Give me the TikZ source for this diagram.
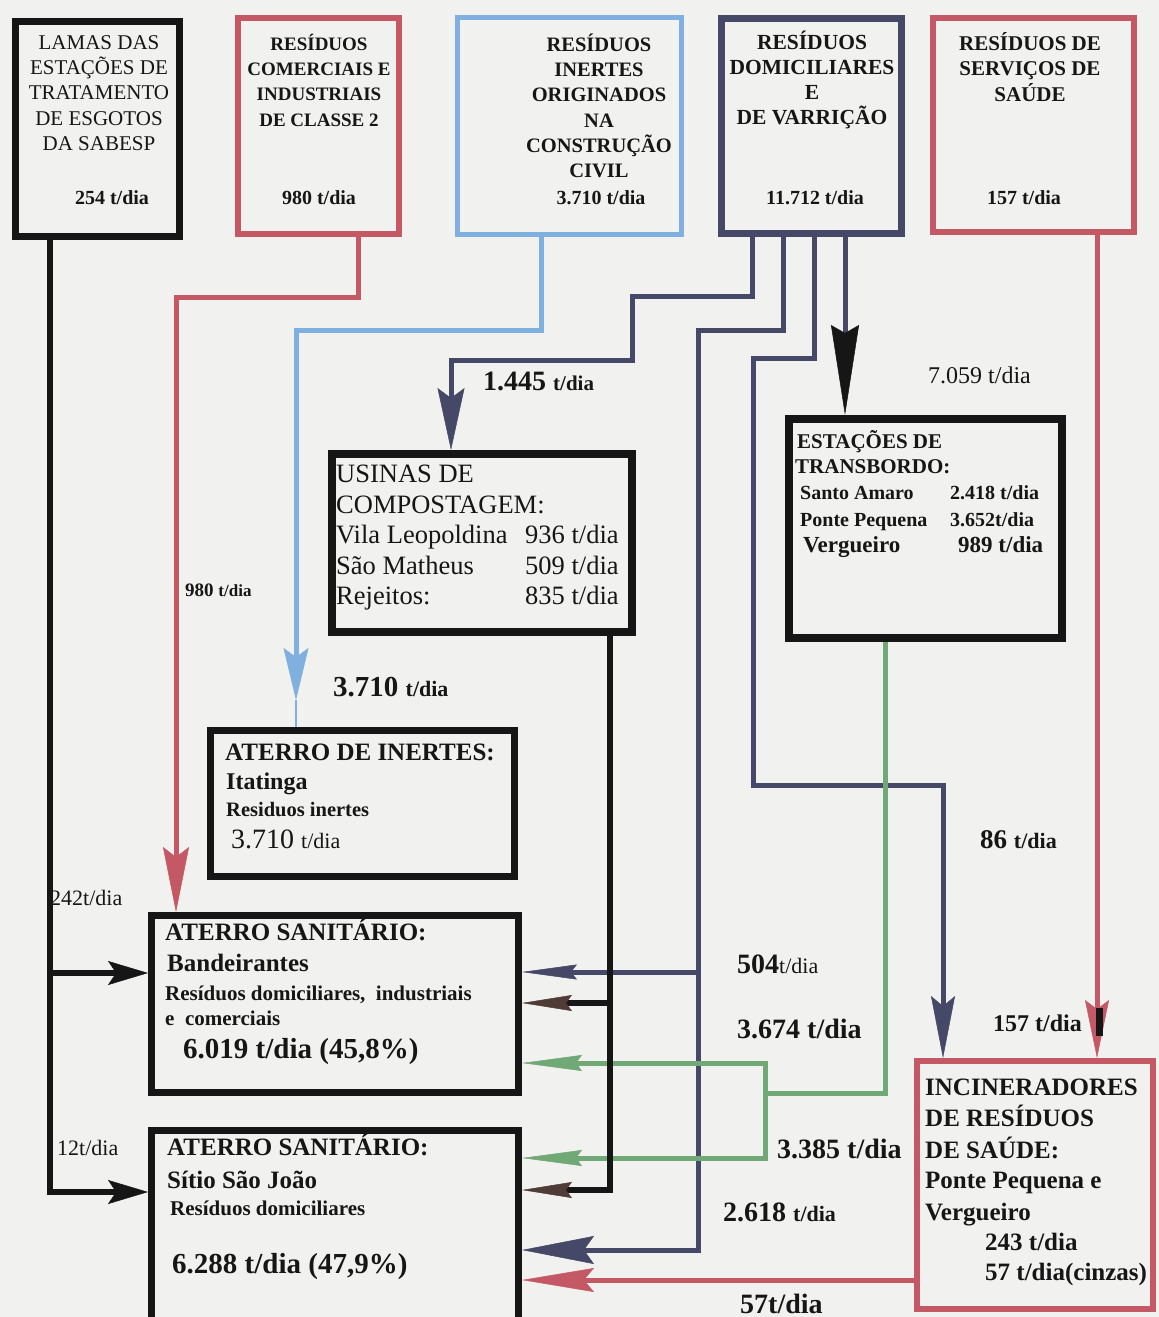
\documentclass[tikz,border=0pt]{standalone}
\usepackage{fontspec}
\setmainfont{Liberation Serif}
\usetikzlibrary{arrows.meta}
\definecolor{cPaper}{RGB}{241,241,239}
\definecolor{cInk}{RGB}{22,22,22}
\definecolor{cRed}{RGB}{196,88,100}
\definecolor{cBlue}{RGB}{128,176,224}
\definecolor{cNavy}{RGB}{70,72,104}
\definecolor{cGreen}{RGB}{112,168,118}
\definecolor{cBrown}{RGB}{80,60,54}
\newcommand{\fsz}[1]{\fontsize{#1}{#1}\selectfont}
\newcommand{\fszb}[2]{\fontsize{#1}{#2}\selectfont}

\begin{document}
\begin{tikzpicture}[x=1pt,y=-1pt,
  frm/.style={draw, rectangle, inner sep=0pt},
  frmBlack/.style={frm, draw=cInk, line width=7pt},
  frmRed/.style={frm, draw=cRed, line width=6pt},
  frmBlue/.style={frm, draw=cBlue, line width=5pt},
  frmNavy/.style={frm, draw=cNavy, line width=7pt},
  head/.style={inner sep=0pt, text=cInk, align=center},
  lbl/.style={inner sep=0pt, text=cInk, anchor=mid west, yshift=-6pt},
  flow/.style={line width=5pt, line join=miter},
  flowBlack/.style={flow, draw=cInk, line width=6pt},
  flowRed/.style={flow, draw=cRed},
  flowBlue/.style={flow, draw=cBlue},
  flowNavy/.style={flow, draw=cNavy},
  flowGreen/.style={flow, draw=cGreen},
]
\fill[cPaper] (0,0) rectangle (1159,1317);
\useasboundingbox (0,0) rectangle (1159,1317);
\clip (0,0) rectangle (1159,1317);

% ---------- source boxes ----------
\node[frmBlack, minimum width=164pt, minimum height=215pt] (lamas) at (97.5,129) {};
\node[frmRed,   minimum width=161pt, minimum height=216pt] (comer) at (318.5,126) {};
\node[frmBlue,  minimum width=224pt, minimum height=217pt] (inert) at (569.5,126) {};
\node[frmNavy,  minimum width=180pt, minimum height=215pt] (domic) at (811.5,126) {};
\node[frmRed,   minimum width=201pt, minimum height=214pt] (saude) at (1033.5,125) {};

\node[head, font=\fszb{21}{25.3}] (lamasT) at (99,93) {LAMAS DAS\\ESTAÇÕES DE\\TRATAMENTO\\DE ESGOTOS\\DA SABESP};
\node[head, font=\fsz{20}\bfseries] (lamasN) at (112,198) {254 t/dia};
\node[head, font=\fszb{19}{25.3}\bfseries] (comerT) at (319,80) {RESÍDUOS\\COMERCIAIS E\\INDUSTRIAIS\\DE CLASSE 2};
\node[head, font=\fsz{20}\bfseries] (comerN) at (319,198) {980 t/dia};
\node[head, font=\fszb{20.5}{25.3}\bfseries] (inertT) at (599,106) {RESÍDUOS\\INERTES\\ORIGINADOS\\NA\\CONSTRUÇÃO\\CIVIL};
\node[head, font=\fsz{20}\bfseries] (inertN) at (601,198) {3.710 t/dia};
\node[head, font=\fszb{21.5}{25.3}\bfseries] (domicT) at (812,80) {RESÍDUOS\\DOMICILIARES\\E\\DE VARRIÇÃO};
\node[head, font=\fsz{20}\bfseries] (domicN) at (815,198) {11.712 t/dia};
\node[head, font=\fszb{21}{25.3}\bfseries] (saudeT) at (1030,67) {RESÍDUOS DE\\SERVIÇOS DE\\SAÚDE};
\node[head, font=\fsz{20}\bfseries] (saudeN) at (1024,198) {157 t/dia};

% ---------- treatment and disposal boxes ----------
\node[frmBlack, line width=8pt, minimum width=300pt, minimum height=178pt] (usinas) at (482,543) {};
\node[frmBlack, line width=8pt, minimum width=273pt, minimum height=219pt] (estac) at (925.5,528.5) {};
\node[frmBlack, minimum width=304pt, minimum height=146pt] (inert2) at (362.5,803.5) {};
\node[frmBlack, minimum width=367pt, minimum height=177pt] (band) at (335,1004) {};
\node[frmBlack, minimum width=367pt, minimum height=196pt] (sitio) at (335,1228.5) {};
\node[frmRed, minimum width=236pt, minimum height=248pt] (incin) at (1035,1185) {};

% composting plants
\node[inner sep=0pt, text=cInk, anchor=north west, font=\fszb{26.5}{30.5}] (usinasT) at (336,461)
  {\begin{tabular}{@{}p{189pt}@{}l@{}}
   \multicolumn{2}{@{}l@{}}{USINAS DE}\\
   \multicolumn{2}{@{}l@{}}{COMPOSTAGEM:}\\
   Vila Leopoldina & 936 t/dia\\
   São Matheus & 509 t/dia\\
   Rejeitos: & 835 t/dia
   \end{tabular}};

% transfer stations
\node[lbl, font=\fsz{21}\bfseries] (estacT1) at (797,440) {ESTAÇÕES DE};
\node[lbl, font=\fsz{21}\bfseries] (estacT2) at (795,465) {TRANSBORDO:};
\node[lbl, font=\fsz{20}\bfseries] (estacA) at (800,491) {Santo Amaro};
\node[lbl, font=\fsz{20}\bfseries] (estacAn) at (950,491) {2.418 t/dia};
\node[lbl, font=\fsz{20}\bfseries] (estacP) at (800,518) {Ponte Pequena};
\node[lbl, font=\fsz{20}\bfseries] (estacPn) at (950,518) {3.652t/dia};
\node[lbl, font=\fsz{23}\bfseries] (estacV) at (803,544) {Vergueiro};
\node[lbl, font=\fsz{23}\bfseries] (estacVn) at (958,544) {989 t/dia};

% inert landfill
\node[lbl, font=\fsz{25}\bfseries] (inert2A) at (225,752) {ATERRO DE INERTES:};
\node[lbl, font=\fsz{24}\bfseries] (inert2B) at (226,781) {Itatinga};
\node[lbl, font=\fsz{20.5}\bfseries] (inert2C) at (226,808) {Residuos inertes};
\node[lbl] (inert2D) at (231,840) {\fsz{28}3.710 \fsz{22}t/dia};

% Bandeirantes landfill
\node[lbl, font=\fsz{25}\bfseries] (bandA) at (165,932) {ATERRO SANITÁRIO:};
\node[lbl, font=\fsz{25}\bfseries] (bandB) at (167,963) {Bandeirantes};
\node[lbl, font=\fsz{21}\bfseries] (bandC) at (165,992) {Resíduos domiciliares,\ \ industriais};
\node[lbl, font=\fsz{21}\bfseries] (bandD) at (165,1017) {e\ \ comerciais};
\node[lbl, font=\fsz{29}\bfseries] (bandE) at (183,1050) {6.019 t/dia (45,8\%)};

% Sitio Sao Joao landfill
\node[lbl, font=\fsz{25}\bfseries] (sitioA) at (167,1147) {ATERRO SANITÁRIO:};
\node[lbl, font=\fsz{25}\bfseries] (sitioB) at (167,1180) {Sítio São João};
\node[lbl, font=\fsz{21}\bfseries] (sitioC) at (170,1207) {Resíduos domiciliares};
\node[lbl, font=\fsz{29}\bfseries] (sitioD) at (172,1265) {6.288 t/dia (47,9\%)};

% incinerators
\node[lbl, font=\fsz{25}\bfseries] (incinA) at (925,1087) {INCINERADORES};
\node[lbl, font=\fsz{25}\bfseries] (incinB) at (925,1118) {DE RESÍDUOS};
\node[lbl, font=\fsz{25}\bfseries] (incinC) at (925,1150) {DE SAÚDE:};
\node[lbl, font=\fsz{25}\bfseries] (incinD) at (925,1180) {Ponte Pequena e};
\node[lbl, font=\fsz{25}\bfseries] (incinE) at (925,1212) {Vergueiro};
\node[lbl, font=\fsz{25}\bfseries] (incinF) at (985,1242) {243 t/dia};
\node[lbl, font=\fsz{25}\bfseries] (incinG) at (985,1272) {57 t/dia(cinzas)};

% ---------- flows ----------
\coordinate (jLamas) at (50,973);
\draw[flowBlack, -{Stealth[length=40pt,width=24pt,inset=8pt,line width=0.5pt]}]
  (lamas.south -| jLamas) -- (50,1192) -- (sitio.west |- 0,1192);
\draw[flowBlack, -{Stealth[length=40pt,width=24pt,inset=8pt,line width=0.5pt]}]
  (jLamas) -- (band.west |- jLamas);

\draw[flowRed, -{Stealth[length=65pt,width=26pt,inset=10pt,line width=0.5pt]}]
  (comer.south -| 358,0) -- (358,297) -- (176,297) -- (band.north -| 176,0);

\coordinate (blueTip) at (296,700);
\draw[flowBlue, -{Stealth[length=52pt,width=25pt,inset=9pt,line width=0.5pt]}]
  (inert.south -| 541,0) -- (541,330) -- (296,330) -- (blueTip);
\draw[cBlue, line width=2pt] (blueTip) -- (inert2.north -| blueTip);

\draw[flowNavy, -{Stealth[length=62pt,width=27pt,inset=10pt,line width=0.5pt]}]
  (domic.south -| 752,0) -- (752,296) -- (632,296) -- (632,360) -- (451,360) -- (usinas.north -| 451,0);
\coordinate (jDom) at (698,972);
\draw[flowNavy, -{Stealth[length=72pt,width=28pt,inset=10pt,line width=0.5pt]}]
  (domic.south -| 783,0) -- (783,330) -- (698,330) -- (698,1250) -- (sitio.east |- 0,1250);
\draw[flowNavy, -{Stealth[length=55pt,width=15pt,inset=6pt,line width=0.5pt]}]
  (jDom) -- (band.east |- jDom);
\draw[flowNavy, -{Stealth[length=62pt,width=24pt,inset=10pt,line width=0.5pt]}]
  (domic.south -| 814,0) -- (814,358) -- (753,358) -- (753,785) -- (943,785) -- (incin.north -| 943,0);
\draw[flowNavy, -{Stealth[length=90pt,width=28pt,inset=8pt,line width=0.5pt,color=cInk]}]
  (domic.south -| 845,0) -- (estac.north -| 845,0);

\coordinate (gJoin) at (765,1093);
\draw[flowGreen] (estac.south -| 885,0) -- (885,1093) -- (gJoin);
\draw[flowGreen, {Stealth[length=60pt,width=16pt,inset=6pt,line width=0.5pt]}-{Stealth[length=60pt,width=16pt,inset=6pt,line width=0.5pt]}]
  (band.east |- 0,1063) -- (765,1063) -- (765,1158) -- (sitio.east |- 0,1158);

\coordinate (jRej) at (610,1003);
\draw[flowBlack, -{Stealth[length=50pt,width=16pt,inset=6pt,line width=0.5pt,color=cBrown]}]
  (usinas.south -| jRej) -- (610,1190) -- (sitio.east |- 0,1190);
\draw[flowBlack, -{Stealth[length=50pt,width=16pt,inset=6pt,line width=0.5pt,color=cBrown]}]
  (jRej) -- (band.east |- jRej);

\draw[flowRed, -{Stealth[length=58pt,width=24pt,inset=9pt,line width=0.5pt]}]
  (saude.south -| 1097,0) -- (incin.north -| 1097,0);
\draw[flowRed, -{Stealth[length=72pt,width=24pt,inset=10pt,line width=0.5pt]}]
  (incin.west |- 0,1280) -- (sitio.east |- 0,1280);
\fill[cInk] (1096,1008) rectangle (1103,1036);

% ---------- flow labels ----------
\node[lbl] (l1445) at (483,382) {\bfseries\fsz{28}1.445 \fsz{21}t/dia};
\node[lbl, font=\fsz{24}] (l7059) at (928,375) {7.059 t/dia};
\node[lbl] (l980) at (185,588) {\bfseries\fsz{19}980 \fsz{17}t/dia};
\node[lbl] (l3710) at (333,688) {\bfseries\fsz{29}3.710 \fsz{22}t/dia};
\node[lbl, font=\fsz{22}] (l242) at (50,897) {242t/dia};
\node[lbl, font=\fsz{22}] (l12) at (57,1147) {12t/dia};
\node[lbl] (l86) at (980,840) {\bfseries\fsz{27}86 \fsz{22}t/dia};
\node[lbl] (l504) at (737,965) {\bfseries\fsz{28}504\fsz{22}\mdseries t/dia};
\node[lbl, font=\fsz{28}\bfseries] (l3674) at (737,1030) {3.674 t/dia};
\node[lbl, font=\fsz{24}\bfseries] (l157) at (993,1023) {157 t/dia};
\node[lbl, font=\fsz{28}\bfseries] (l3385) at (777,1150) {3.385 t/dia};
\node[lbl] (l2618) at (723,1213) {\bfseries\fsz{28}2.618 \fsz{22}t/dia};
\node[lbl, font=\fsz{28}\bfseries] (l57) at (740,1305) {57t/dia};
\end{tikzpicture}
\end{document}
